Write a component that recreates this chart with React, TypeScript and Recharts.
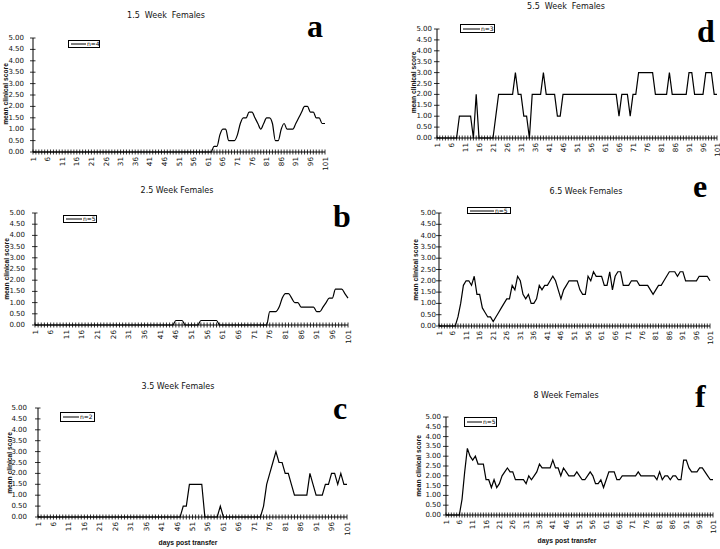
import React from 'react';
import { LineChart, Line, XAxis, YAxis, Legend } from 'recharts';

// ---------- DATA ----------
const days: number[] = Array.from({ length: 101 }, (_, i) => i + 1);
const xTickLabels = [1, 6, 11, 16, 21, 26, 31, 36, 41, 46, 51, 56, 61, 66, 71, 76, 81, 86, 91, 96, 101];
const yTicks = [0, 0.5, 1, 1.5, 2, 2.5, 3, 3.5, 4, 4.5, 5];

const panelTitles = ['1.5  Week  Females', '2.5 Week Females', '3.5 Week Females', '5.5  Week  Females', '6.5 Week Females', '8 Week Females'];
const panelLetters = ['a', 'b', 'c', 'd', 'e', 'f'];
const groupSizes = ['n=4', 'n=5', 'n=2', 'n=3', 'n=5', 'n=5'];

const score15wk = [
  0, 0, 0, 0, 0, 0, 0, 0, 0, 0,
  0, 0, 0, 0, 0, 0, 0, 0, 0, 0,
  0, 0, 0, 0, 0, 0, 0, 0, 0, 0,
  0, 0, 0, 0, 0, 0, 0, 0, 0, 0,
  0, 0, 0, 0, 0, 0, 0, 0, 0, 0,
  0, 0, 0, 0, 0, 0, 0, 0, 0, 0,
  0, 0, 0.25, 0.25, 0.75, 1.0, 1.0, 0.5, 0.5, 0.5,
  0.75, 1.25, 1.5, 1.5, 1.75, 1.75, 1.5, 1.25, 1.0, 1.25,
  1.5, 1.5, 1.25, 0.5, 0.5, 1.0, 1.25, 1.0, 1.0, 1.0,
  1.25, 1.5, 1.75, 2.0, 2.0, 1.75, 1.75, 1.5, 1.5, 1.25,
  1.25,
];

const score25wk = [
  0, 0, 0, 0, 0, 0, 0, 0, 0, 0,
  0, 0, 0, 0, 0, 0, 0, 0, 0, 0,
  0, 0, 0, 0, 0, 0, 0, 0, 0, 0,
  0, 0, 0, 0, 0, 0, 0, 0, 0, 0,
  0, 0, 0, 0, 0, 0.2, 0.2, 0.2, 0, 0,
  0, 0, 0, 0.2, 0.2, 0.2, 0.2, 0.2, 0.2, 0,
  0, 0, 0, 0, 0, 0, 0, 0, 0, 0,
  0, 0, 0, 0, 0, 0.6, 0.6, 0.6, 0.8, 1.2,
  1.4, 1.4, 1.2, 1.0, 1.0, 0.8, 0.8, 0.8, 0.8, 0.8,
  0.6, 0.6, 0.8, 1.0, 1.2, 1.2, 1.6, 1.6, 1.6, 1.4,
  1.2,
];

const score35wk = [
  0, 0, 0, 0, 0, 0, 0, 0, 0, 0,
  0, 0, 0, 0, 0, 0, 0, 0, 0, 0,
  0, 0, 0, 0, 0, 0, 0, 0, 0, 0,
  0, 0, 0, 0, 0, 0, 0, 0, 0, 0,
  0, 0, 0, 0, 0, 0, 0, 0.5, 0.5, 1.5,
  1.5, 1.5, 1.5, 1.5, 0, 0, 0, 0, 0, 0.5,
  0, 0, 0, 0, 0, 0, 0, 0, 0, 0,
  0, 0, 0, 0.5, 1.5, 2.0, 2.5, 3.0, 2.5, 2.5,
  2.0, 2.0, 1.5, 1.0, 1.0, 1.0, 1.0, 1.0, 2.0, 1.5,
  1.0, 1.0, 1.0, 1.5, 1.5, 2.0, 2.0, 1.5, 2.0, 1.5,
  1.5,
];

const score55wk = [
  0, 0, 0, 0, 0, 0, 0, 0, 1, 1,
  1, 1, 1, 0, 2, 0, 0, 0, 0, 0,
  0, 1, 2, 2, 2, 2, 2, 2, 3, 2,
  2, 1, 1, 0, 2, 2, 2, 2, 3, 2,
  2, 2, 2, 1, 1, 2, 2, 2, 2, 2,
  2, 2, 2, 2, 2, 2, 2, 2, 2, 2,
  2, 2, 2, 2, 2, 1, 2, 2, 2, 1,
  2, 2, 3, 3, 3, 3, 3, 3, 2, 2,
  2, 2, 2, 3, 2, 2, 2, 2, 2, 2,
  3, 3, 2, 2, 2, 2, 3, 3, 3, 2,
  2,
];

const score65wk = [
  0, 0, 0, 0, 0, 0, 0, 0.4, 1.0, 1.8,
  2.0, 2.0, 1.8, 2.2, 1.4, 1.4, 0.8, 0.6, 0.4, 0.4,
  0.2, 0.4, 0.6, 0.8, 1.0, 1.2, 1.2, 1.8, 1.6, 2.2,
  2.0, 1.4, 1.2, 1.4, 1.0, 1.0, 1.2, 1.8, 1.6, 1.8,
  1.8, 2.0, 2.2, 2.0, 1.6, 1.2, 1.6, 1.8, 2.0, 2.0,
  2.0, 2.0, 1.6, 1.4, 1.4, 2.2, 2.0, 2.4, 2.2, 2.2,
  2.2, 1.8, 1.8, 2.4, 1.6, 2.2, 2.4, 2.4, 1.8, 1.8,
  1.8, 2.0, 2.0, 2.0, 1.8, 1.8, 1.8, 1.8, 1.6, 1.4,
  1.6, 1.8, 1.8, 2.0, 2.2, 2.4, 2.4, 2.4, 2.2, 2.4,
  2.4, 2.0, 2.0, 2.0, 2.0, 2.0, 2.2, 2.2, 2.2, 2.2,
  2.0,
];

const score8wk = [
  0, 0, 0, 0, 0, 0, 0.8, 2.2, 3.4, 3.0,
  2.8, 3.0, 2.6, 2.6, 2.6, 1.8, 1.8, 1.4, 1.8, 1.4,
  1.6, 2.0, 2.2, 2.4, 2.2, 2.2, 1.8, 1.8, 1.8, 1.8,
  1.6, 2.0, 1.8, 2.0, 2.2, 2.6, 2.4, 2.4, 2.4, 2.4,
  2.8, 2.4, 2.4, 2.0, 2.4, 2.2, 2.0, 2.0, 2.0, 2.2,
  2.0, 1.8, 1.8, 2.0, 2.2, 2.0, 1.6, 1.6, 1.8, 1.4,
  1.8, 2.2, 2.2, 2.2, 1.8, 1.8, 2.0, 2.0, 2.0, 2.0,
  2.0, 2.0, 2.2, 2.0, 2.0, 2.0, 2.0, 2.0, 2.0, 1.8,
  2.2, 1.8, 2.0, 2.0, 1.8, 2.0, 2.0, 1.8, 1.8, 2.8,
  2.8, 2.4, 2.2, 2.2, 2.2, 2.4, 2.4, 2.2, 2.0, 1.8,
  1.8,
];

const allSeries = [score15wk, score25wk, score35wk, score55wk, score65wk, score8wk];

// ---------- LAYOUT (page pixels) ----------
type Geo = {
  x0: number; x1: number; yT: number; yB: number; gap: number;
  title: [number, number]; letter: [number, number]; ylab: [number, number];
  legend: [number, number, number, number, number]; xlab?: [number, number]; smooth: boolean;
};

const LAYOUT: Geo[] = [
  { x0: 33, x1: 325, yT: 38, yB: 152, gap: 9, title: [166, 18], letter: [307, 37], ylab: [5, 94], legend: [68, 40, 32, 8, 15], smooth: true },
  { x0: 35, x1: 348, yT: 213, yB: 325, gap: 10, title: [177, 192.5], letter: [333, 227], ylab: [6, 269], legend: [63, 215, 34, 8, 16], smooth: true },
  { x0: 38, x1: 347, yT: 408, yB: 517, gap: 11, title: [178, 389], letter: [333, 419], ylab: [9, 463], legend: [60, 412, 35, 10, 16], xlab: [188, 545], smooth: false },
  { x0: 437, x1: 717, yT: 29, yB: 138, gap: 5, title: [566, 8.5], letter: [697, 42], ylab: [413.5, 82.5], legend: [460, 24, 35, 9, 17], smooth: false },
  { x0: 439, x1: 710, yT: 213, yB: 326, gap: 3, title: [586, 194], letter: [693, 197], ylab: [415.5, 270], legend: [467, 207, 44, 7, 24], smooth: false },
  { x0: 446, x1: 713, yT: 417, yB: 515, gap: 5, title: [566, 398], letter: [695, 407], ylab: [418, 466], legend: [464, 417, 33, 10, 15], xlab: [567, 543], smooth: false },
];

const FONT = '"DejaVu Sans", Verdana, sans-serif';
const LABEL_FONT = '"Liberation Sans", Arial, sans-serif';
const Y_W = 32;
const X_H = 30;
const MT = 5;
const MR = 6;

const XTick = (props: any) => {
  const { x, payload, axisY } = props;
  const v = payload.value;
  const major = xTickLabels.indexOf(v) >= 0;
  const ty = axisY + 5;
  return (
    <g>
      <line x1={x} x2={x} y1={axisY - 2.5} y2={axisY + 2.5} stroke="#000" strokeWidth={0.8} />
      {major && (
        <text
          x={x}
          y={ty}
          transform={`rotate(-90 ${x} ${ty})`}
          textAnchor="end"
          dominantBaseline="central"
          fontFamily={FONT}
          fontSize={7.2}
          fill="#111"
        >
          {v}
        </text>
      )}
    </g>
  );
};

const YTick = (props: any) => {
  const { y, payload, axisX, gap } = props;
  return (
    <g>
      <line x1={axisX - 3} x2={axisX + 2.5} y1={y} y2={y} stroke="#000" strokeWidth={0.8} />
      <text x={axisX - gap} y={y} textAnchor="end" dominantBaseline="central" fontFamily={FONT} fontSize={7} fill="#111">
        {Number(payload.value).toFixed(2)}
      </text>
    </g>
  );
};

function Panel({ idx }: { idx: number }) {
  const geo = LAYOUT[idx];
  const series = allSeries[idx];
  const pw = geo.x1 - geo.x0;
  const ph = geo.yB - geo.yT;
  const W = Y_W + pw + MR;
  const H = MT + ph + X_H;
  const left = geo.x0 - Y_W;
  const top = geo.yT - MT;
  const axisY = MT + ph;
  const data = days.map((d, i) => ({ day: d, score: series[i] }));
  const [lx, ly, lw, lh, ll] = geo.legend;

  const legendContent = (p: any) => {
    const item = p && p.payload && p.payload[0];
    return (
      <div
        style={{
          width: lw,
          height: lh,
          border: '1px solid #000',
          boxSizing: 'border-box',
          display: 'flex',
          alignItems: 'center',
          fontFamily: FONT,
          fontSize: 6,
          color: '#000',
          background: '#fff',
          lineHeight: 1,
          overflow: 'hidden',
        }}
      >
        <svg width={ll} height={4} style={{ marginLeft: 2, flex: 'none' }}>
          <line x1={0} x2={ll} y1={2} y2={2} stroke="#000" strokeWidth={1} />
        </svg>
        <span style={{ marginLeft: 1, whiteSpace: 'nowrap', color: '#000' }}>{item ? item.value : groupSizes[idx]}</span>
      </div>
    );
  };

  return (
    <div style={{ position: 'absolute', left, top, width: W, height: H }}>
      <LineChart width={W} height={H} data={data} margin={{ top: MT, right: MR, left: 0, bottom: 0 }}>
        <XAxis
          dataKey="day"
          type="number"
          domain={[1, 101]}
          ticks={days}
          interval={0}
          height={X_H}
          stroke="#000"
          tickLine={false}
          tick={(p: any) => <XTick {...p} axisY={axisY} />}
        />
        <YAxis
          type="number"
          domain={[0, 5]}
          ticks={yTicks}
          interval={0}
          width={Y_W}
          stroke="#000"
          tickLine={false}
          tick={(p: any) => <YTick {...p} axisX={Y_W} gap={geo.gap} />}
        />
        <Legend
          layout="horizontal"
          verticalAlign="middle"
          align="center"
          wrapperStyle={{ left: lx - left, top: ly - top, width: 'auto', height: 'auto' }}
          content={legendContent}
        />
        <Line
          dataKey="score"
          name={groupSizes[idx]}
          stroke="#000"
          strokeWidth={1.2}
          dot={false}
          activeDot={false}
          type={geo.smooth ? 'monotone' : 'linear'}
          isAnimationActive={false}
        />
      </LineChart>
    </div>
  );
}

export default function App() {
  return (
    <div style={{ position: 'absolute', left: 0, top: 0, width: 720, height: 549, background: '#fff', overflow: 'hidden' }}>
      {LAYOUT.map((_, i) => (
        <Panel key={i} idx={i} />
      ))}
      <svg width={720} height={549} style={{ position: 'absolute', left: 0, top: 0, pointerEvents: 'none' }}>
        {LAYOUT.map((g, i) => (
          <g key={i}>
            <text x={g.title[0]} y={g.title[1]} textAnchor="middle" fontFamily={FONT} fontSize={8} fill="#111" style={{ whiteSpace: 'pre' }}>
              {panelTitles[i]}
            </text>
            <text x={g.letter[0]} y={g.letter[1]} fontFamily='"Liberation Serif", "Times New Roman", serif' fontWeight="bold" fontSize={32} fill="#000">
              {panelLetters[i]}
            </text>
            <text
              x={g.ylab[0]}
              y={g.ylab[1]}
              transform={`rotate(-90 ${g.ylab[0]} ${g.ylab[1]})`}
              textAnchor="middle"
              dominantBaseline="central"
              fontFamily={LABEL_FONT}
              fontWeight="bold"
              fontSize={6.7}
              fill="#111"
            >
              mean clinical score
            </text>
            {g.xlab && (
              <text x={g.xlab[0]} y={g.xlab[1]} textAnchor="middle" fontFamily={LABEL_FONT} fontWeight="bold" fontSize={6.8} fill="#111">
                days post transfer
              </text>
            )}
          </g>
        ))}
      </svg>
    </div>
  );
}
